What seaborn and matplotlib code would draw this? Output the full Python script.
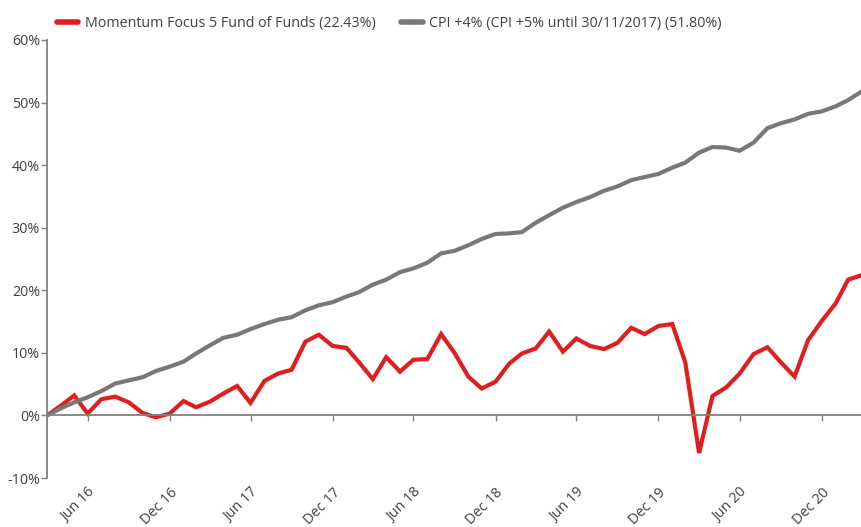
import matplotlib
matplotlib.use("Agg")
import matplotlib.pyplot as plt
import matplotlib.ticker as mticker
from matplotlib.lines import Line2D
import seaborn as sns
import pandas as pd

# ---- data (cumulative returns, %) ----
start_month = "2016-03-31"
n_months = 61
fund_name = "Momentum Focus 5 Fund of Funds (22.43%)"
cpi_name = "CPI +4% (CPI +5% until 30/11/2017) (51.80%)"

fund_values = [0.0, 1.5, 3.2, 0.3, 2.6, 3.0, 2.1, 0.4, -0.3, 0.3,
               2.3, 1.3, 2.2, 3.5, 4.7, 2.0, 5.5, 6.7, 7.3, 11.8,
               12.9, 11.1, 10.8, 8.5, 5.8, 9.3, 7.0, 8.9, 9.0, 13.0,
               10.0, 6.2, 4.3, 5.4, 8.3, 9.9, 10.7, 13.4, 10.2, 12.3,
               11.1, 10.6, 11.6, 14.0, 13.0, 14.3, 14.6, 8.5, -6.0, 3.1,
               4.5, 6.7, 9.8, 10.9, 8.5, 6.2, 12.0, 15.1, 17.9, 21.7,
               22.43]
cpi_values = [0.0, 1.1, 2.1, 2.9, 3.9, 5.1, 5.6, 6.1, 7.1, 7.8,
              8.6, 9.9, 11.2, 12.4, 12.9, 13.8, 14.6, 15.3, 15.7, 16.8,
              17.6, 18.1, 19.0, 19.7, 20.9, 21.7, 22.9, 23.5, 24.4, 25.9,
              26.3, 27.2, 28.2, 29.0, 29.1, 29.3, 30.8, 32.0, 33.2, 34.1,
              34.9, 35.9, 36.6, 37.6, 38.1, 38.6, 39.6, 40.4, 42.0, 42.9,
              42.8, 42.3, 43.6, 45.9, 46.7, 47.3, 48.2, 48.6, 49.4, 50.4,
              51.8]
tick_labels = ["Jun 16", "Dec 16", "Jun 17", "Dec 17", "Jun 18",
               "Dec 18", "Jun 19", "Dec 19", "Jun 20", "Dec 20"]
y_ticks = [-10, 0, 10, 20, 30, 40, 50, 60]

RED = "#E01E1E"
GREY = "#787878"
TEXT = "#404040"
AXIS = "#808080"
FS = 10.3

dates = pd.date_range(start_month, periods=n_months, freq="ME")
df = pd.DataFrame({
    "date": list(dates) * 2,
    "value": fund_values + cpi_values,
    "series": [fund_name] * n_months + [cpi_name] * n_months,
})

sns.set_theme(style="white")
plt.rcParams["font.family"] = ["Open Sans", "DejaVu Sans"]

fig = plt.figure(figsize=(8.62, 5.27), dpi=100)
ax = fig.add_axes([47 / 862, 1 - 478 / 527, 1 - 47 / 862, (478 - 40) / 527])

sns.lineplot(data=df, x="date", y="value", hue="series",
             palette={fund_name: RED, cpi_name: GREY},
             hue_order=[fund_name, cpi_name],
             linewidth=3, ax=ax, legend=False)
for ln in ax.lines:
    ln.set_solid_joinstyle("miter")

ax.set_xlim(dates[0], dates[-1])
ax.set_ylim(-10, 60)
ax.set_xlabel("")
ax.set_ylabel("")

# y axis
ax.set_yticks(y_ticks)
ax.yaxis.set_major_formatter(mticker.FuncFormatter(lambda v, p: f"{v:.0f}%"))
ax.tick_params(axis="y", which="both", left=True, length=4, width=1,
               color=AXIS, labelsize=FS, labelcolor=TEXT, pad=1)

# x axis: line at zero, labels below the plot
tick_dates = [d for d in dates if d.month in (6, 12)]
ax.spines["bottom"].set_position(("data", 0))
ax.tick_params(axis="x", which="both", bottom=True, length=4, width=1,
               color=AXIS, labelsize=FS, labelcolor=TEXT, pad=46)
ax.set_xticks(tick_dates)
ax.set_xticklabels(tick_labels)
plt.setp(ax.get_xticklabels(), rotation=45, ha="right", va="top",
         rotation_mode="anchor")

for side in ("top", "right"):
    ax.spines[side].set_visible(False)
for side in ("left", "bottom"):
    ax.spines[side].set_color(AXIS)
    ax.spines[side].set_linewidth(1.3)
ax.grid(False)

handles = [Line2D([], [], color=RED, linewidth=4),
           Line2D([], [], color=GREY, linewidth=4)]
fig.legend(handles, [fund_name, cpi_name], loc="center left",
           bbox_to_anchor=(57 / 862, 1 - 24 / 527), ncol=2, frameon=False,
           fontsize=FS, labelcolor=TEXT, borderpad=0, borderaxespad=0,
           handlelength=1.5, handletextpad=0.45, columnspacing=1.8)

fig.savefig("out.png", dpi=100)
